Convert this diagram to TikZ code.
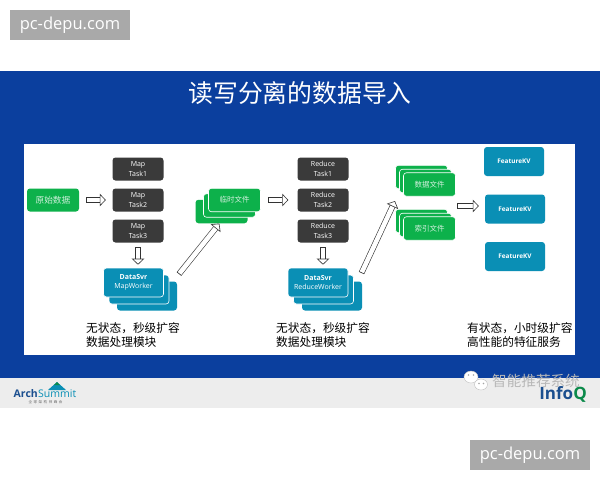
\documentclass[tikz,border=0pt]{standalone}
\usepackage{fontspec}
\setmainfont{Open Sans}
\newfontfamily\cjk{Noto Sans CJK SC}
\usetikzlibrary{arrows.meta,calc}
\definecolor{bandblue}{HTML}{0B3F9E}
\definecolor{bargray}{HTML}{EDEDED}
\definecolor{filegreen}{HTML}{0DB14B}
\definecolor{workerteal}{HTML}{0A8FB5}
\definecolor{taskdark}{HTML}{3A3A3A}
\definecolor{markgray}{HTML}{A9A9A9}
\definecolor{archblue}{HTML}{1B4F8F}
\definecolor{infogreen}{HTML}{0B8A4A}
\tikzset{
  card/.style={rounded corners=3pt,inner sep=0pt,align=center,text=white,font=\fontsize{7}{9.5}\selectfont},
  taskbox/.style={card,fill=taskdark,minimum width=51pt,minimum height=23pt},
  filebox/.style={card,fill=filegreen,draw=white,line width=0.6pt,minimum width=52pt,minimum height=23.5pt,font=\fontsize{7.5}{10}\cjk,text=white!80!filegreen},
  workerbox/.style={card,fill=workerteal,draw=white,line width=0.6pt,minimum width=60pt,minimum height=29pt},
  kvbox/.style={card,fill=workerteal,minimum width=60pt,minimum height=29pt,font=\fontsize{6.4}{9}\selectfont\bfseries},
  hollow/.style={draw=black!80,line width=0.6pt,double=white,double distance=4.6pt,
    {Bar[width=5.8pt,line width=0.6pt]}-{Triangle[fill=white,length=6pt,width=12.5pt,line width=0.6pt]}},
  note/.style={anchor=west,inner sep=0pt,text=black,font=\fontsize{11.7}{14}\cjk},
  markbox/.style={fill=markgray,text=white,minimum width=120pt,minimum height=30pt,inner sep=0pt,font=\fontsize{16.5}{18}\selectfont}
}
\begin{document}
\begin{tikzpicture}[x=1pt,y=-1pt]
  \useasboundingbox (0,0) rectangle (600,480);
  % bands
  \fill[white] (0,0) rectangle (600,480);
  \fill[bandblue] (0,71) rectangle (600,378);
  \fill[bargray] (0,378) rectangle (600,407.5);
  \fill[white] (24,144) rectangle (575,355);
  \node[text=white,inner sep=0pt,font=\fontsize{24.8}{30}\cjk] (title) at (300,93) {读写分离的数据导入};
  % first stage
  \node[card,fill=filegreen,minimum width=52pt,minimum height=23pt,text=white!80!filegreen,font=\fontsize{8.7}{10}\cjk] (rawdata) at (53,200) {原始数据};
  \foreach\i/\y in {1/169,2/200,3/231} {
    \node[taskbox] (map\i) at (138,\y) {Map\\Task\i};
    \node[taskbox] (reduce\i) at (323,\y) {Reduce\\Task\i};
  }
  \node[workerbox,draw=none] (mapback) at (147,296) {};
  \node[workerbox] (mapmid) at (139,289.5) {};
  \node[workerbox] (mapfront) at (133.5,282.5) {\textbf{DataSvr}\\MapWorker};
  \node[filebox,draw=none] (tempback) at (221.5,211.5) {};
  \node[filebox] (tempmid) at (229.5,205.5) {};
  \node[filebox] (tempfront) at (234.5,200) {临时文件};
  % second stage
  \node[workerbox,draw=none] (reduceback) at (332,296) {};
  \node[workerbox] (reducemid) at (323.5,289.5) {};
  \node[workerbox] (reducefront) at (318,282.5) {\textbf{DataSvr}\\ReduceWorker};
  \foreach\n/\t/\s in {data/数据文件/0,index/索引文件/44} {
    \node[filebox] (\n back) at (421.5,177+\s) {};
    \node[filebox] (\n mid) at (425.5,181+\s) {};
    \node[filebox] (\n front) at (429.5,184.5+\s) {\t};
  }
  \node[kvbox] (kv1) at (514,161.5) {FeatureKV};
  \node[kvbox] (kv2) at (515,209) {FeatureKV};
  \node[kvbox] (kv3) at (515,256.5) {FeatureKV};
  % arrows
  \coordinate (mapout) at (179,274);
  \coordinate (reduceout) at (361.5,273);
  \coordinate (filein) at (395,201);
  \coordinate (fileout) at (457,206);
  \draw[hollow] ($(rawdata.east)+(7,0)$) -- ($(map2.west)+(-6.5,0)$);
  \draw[hollow] ($(map3.south)+(0,4)$) -- ($(map3.south |- mapfront.north)+(0,-3)$);
  \draw[hollow] (mapout) -- (tempback.-100);
  \draw[hollow] ($(tempfront.east)+(7,0)$) -- ($(reduce2.west)+(-9,0)$);
  \draw[hollow] ($(reduce3.south)+(0,4)$) -- ($(reduce3.south |- reducefront.north)+(0,-3)$);
  \draw[hollow] (reduceout) -- (filein);
  \draw[hollow] (fileout) -- ($(fileout -| kv2.west)+(-6,0)$);
  % notes
  \node[note,align=left] (mapnote) at (86,335.5) {无状态，秒级扩容\\数据处理模块};
  \node[note,align=left] (reducenote) at (276,335.5) {无状态，秒级扩容\\数据处理模块};
  \node[note,align=left] (kvnote) at (467,335.5) {有状态，小时级扩容\\高性能的特征服务};
  % logos
  \fill[workerteal] (57,382) -- (66,390) -- (48,390) -- cycle;
  \fill[infogreen] (57,382) -- (60,385) -- (54,385) -- cycle;
  \node[anchor=west,inner sep=0pt,text=archblue,font=\fontsize{10.5}{12}\selectfont\bfseries] (arch) at (13.5,393.5) {Arch};
  \node[anchor=west,inner sep=0pt,text=workerteal,font=\fontsize{10.5}{12}\selectfont] (summit) at (arch.east) {Summit};
  \node[inner sep=0pt,text=black!60,font=\fontsize{3.5}{4}\cjk] (archcn) at (45.5,402) {全\ \ 球\ \ 架\ \ 构\ \ 师\ \ 峰\ \ 会};
  \node[anchor=east,inner sep=0pt,text=archblue,font=\fontsize{17}{18}\selectfont\bfseries] (infoq) at (587,394.5) {Info\textcolor{infogreen}{Q}};
  % account mark
  \draw[black!25,fill=white,line width=0.4pt] (471,377) ellipse (7pt and 6pt);
  \draw[black!25,fill=white,line width=0.4pt] (481,384.5) ellipse (6.5pt and 5.5pt);
  \foreach\x/\y in {468.5/375,473.5/375,479/383.5,483.5/383.5} \fill[black!35] (\x,\y) circle (0.8pt);
  \node[inner sep=0pt,text=black!28,font=\fontsize{14.6}{16}\cjk] (account) at (536,381) {智能推荐系统};
  % watermarks
  \node[markbox] (marktop) at (70,25) {pc-depu.com};
  \node[markbox] (markbottom) at (530,455) {pc-depu.com};
\end{tikzpicture}
\end{document}
